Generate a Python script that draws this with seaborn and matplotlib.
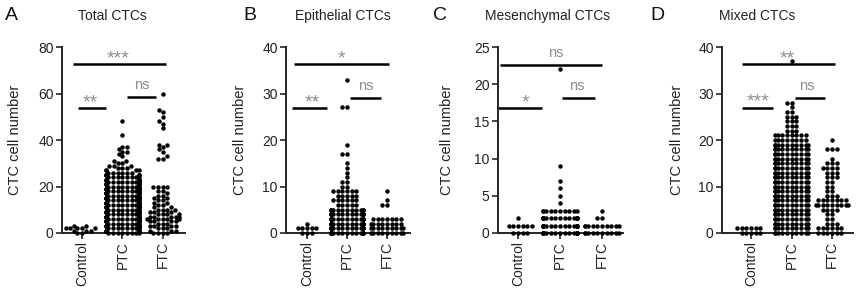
import warnings
warnings.filterwarnings("ignore")
import numpy as np
import pandas as pd
import matplotlib
matplotlib.use("Agg")
import matplotlib.pyplot as plt
import seaborn as sns

sns.set_style("ticks")
plt.rcParams['font.family'] = ['Liberation Sans', 'DejaVu Sans']

groups = ["Control", "PTC", "FTC"]
panel_letters = ["A", "B", "C", "D"]
titles = ["Total CTCs", "Epithelial CTCs", "Mesenchymal CTCs", "Mixed CTCs"]

# ---- Total CTCs (value / count pairs) ----
total_ctrl_vals = [0, 1, 2, 3]
total_ctrl_cnts = [2, 3, 5, 2]
total_ptc_vals = list(range(0, 32)) + [33, 34, 35, 36, 37, 42, 48]
total_ptc_cnts = [8, 9, 9, 9, 9, 9, 9, 9, 9, 9, 9, 9, 9, 9, 9, 9,
                  9, 9, 9, 9, 9, 9, 9, 8, 8, 7, 6, 4, 3, 3, 2, 2,
                  1, 1, 2, 1, 2, 1, 1]
total_ftc_vals = [0, 1, 2, 3, 4, 5, 6, 7, 8, 9, 10, 11, 12, 13, 14, 15, 16, 17, 18, 20,
                  32, 33, 35, 36, 37, 38, 45, 47, 48, 50, 52, 53, 60]
total_ftc_cnts = [4, 3, 3, 4, 3, 4, 5, 5, 4, 3, 4, 2, 2, 2, 2, 2, 2, 1, 2, 4,
                  2, 1, 1, 1, 1, 2, 1, 1, 1, 1, 1, 1, 1]

# ---- Epithelial CTCs ----
epi_ctrl_vals = [0, 1, 2]
epi_ctrl_cnts = [3, 5, 1]
epi_ptc_vals = [0, 1, 2, 3, 4, 5, 6, 7, 8, 9, 10, 11, 12, 13, 14, 15, 17, 19, 27, 33]
epi_ptc_cnts = [18, 20, 18, 16, 15, 12, 5, 6, 5, 6, 2, 2, 1, 1, 1, 1, 2, 1, 2, 1]
epi_ftc_vals = [0, 1, 2, 3, 6, 7, 9]
epi_ftc_cnts = [9, 9, 8, 7, 2, 1, 1]

# ---- Mesenchymal CTCs ----
mes_ctrl_vals = [0, 1, 2]
mes_ctrl_cnts = [4, 6, 1]
mes_ptc_vals = [0, 1, 2, 3, 4, 5, 6, 7, 9, 22]
mes_ptc_cnts = [16, 18, 16, 10, 1, 1, 1, 1, 1, 1]
mes_ftc_vals = [0, 1, 2, 3]
mes_ftc_cnts = [10, 10, 2, 1]

# ---- Mixed CTCs ----
mix_ctrl_vals = [0, 1]
mix_ctrl_cnts = [5, 6]
mix_ptc_vals = list(range(0, 29)) + [37]
mix_ptc_cnts = [10, 10, 10, 10, 10, 10, 10, 10, 10, 10, 10, 10, 10, 10, 10, 10, 10, 10, 10, 10,
                8, 8, 3, 3, 3, 3, 2, 1, 2, 1]
mix_ftc_vals = [0, 1, 2, 3, 4, 5, 6, 7, 8, 9, 10, 11, 12, 13, 14, 15, 16, 18, 20]
mix_ftc_cnts = [6, 6, 3, 2, 2, 4, 9, 7, 3, 2, 2, 2, 3, 3, 4, 3, 1, 3, 1]

panel_data = [
    [(total_ctrl_vals, total_ctrl_cnts), (total_ptc_vals, total_ptc_cnts), (total_ftc_vals, total_ftc_cnts)],
    [(epi_ctrl_vals, epi_ctrl_cnts), (epi_ptc_vals, epi_ptc_cnts), (epi_ftc_vals, epi_ftc_cnts)],
    [(mes_ctrl_vals, mes_ctrl_cnts), (mes_ptc_vals, mes_ptc_cnts), (mes_ftc_vals, mes_ftc_cnts)],
    [(mix_ctrl_vals, mix_ctrl_cnts), (mix_ptc_vals, mix_ptc_cnts), (mix_ftc_vals, mix_ftc_cnts)],
]

y_max = [80, 40, 25, 40]
y_step = [20, 10, 5, 10]

# significance brackets: (x0, x1, y_line, label, x_text)
sig = [
    [(-0.22, 2.07, 72.7, "***", 0.88), (-0.1, 0.59, 53.7, "**", 0.2), (1.12, 1.83, 58.3, "ns", 1.49)],
    [(-0.33, 2.05, 36.3, "*", 0.85), (-0.38, 0.5, 26.8, "**", 0.13), (1.08, 1.85, 29.0, "ns", 1.46)],
    [(-0.44, 2.0, 22.6, "ns", 0.9), (-0.49, 0.56, 16.8, "*", 0.17), (1.05, 1.83, 18.2, "ns", 1.41)],
    [(-0.22, 2.07, 36.3, "**", 0.89), (-0.22, 0.54, 26.9, "***", 0.17), (1.08, 1.83, 29.0, "ns", 1.38)],
]

# axes layout in pixels (left, right) and x-limits
ax_px = [(62, 185), (286, 410), (498, 623), (722, 853)]
xlims = [(-0.5, 2.55), (-0.53, 2.58), (-0.48, 2.5), (-0.72, 2.52)]
half_w = [0.25, 0.27, 0.27, 0.36]
title_x = [112, 343, 548, 757]
letter_x = [5, 243, 433, 650]
ylabel_x = [15, 240, 447, 677]

W, H = 860, 300
fig = plt.figure(figsize=(W / 100, H / 100), dpi=100)
bottom_px, top_px = 233, 47

grey = "#8e8e8e"
for i in range(4):
    l, r = ax_px[i]
    ax = fig.add_axes([l / W, (H - bottom_px) / H, (r - l) / W, (bottom_px - top_px) / H])
    rows = []
    for g, (vals, cnts) in zip(groups, panel_data[i]):
        for v, c in zip(vals, cnts):
            rows.extend([(g, v)] * c)
    df = pd.DataFrame(rows, columns=["group", "value"])
    ax.set_xlim(*xlims[i])
    ax.set_ylim(0, y_max[i])
    sns.swarmplot(data=df, x="group", y="value", order=groups, color="black",
                  size=2.6, linewidth=0, ax=ax)
    ax.set_xlim(*xlims[i])
    ax.set_ylim(0, y_max[i])
    fig.canvas.draw()
    # keep each swarm within the narrow column width used in the figure
    for coll in ax.collections:
        coll.set_clip_on(False)
        coll.set_sizes([3.2 ** 2])
        off = coll.get_offsets()
        if len(off):
            c = np.round(np.median(off[:, 0]))
            dx = np.clip(off[:, 0] - c, -half_w[i], half_w[i])
            coll.set_offsets(np.column_stack([c + dx, off[:, 1]]))
    ax.set_yticks(np.arange(0, y_max[i] + 1, y_step[i]))
    ax.set_xticks(range(3))
    ax.set_xticklabels(groups, rotation=90, fontsize=10)
    ax.tick_params(axis="y", labelsize=10, length=4, width=1.2, pad=2,
                   labelcolor="#222222")
    ax.tick_params(axis="x", length=4, width=1.2, pad=2, labelcolor="#222222")
    ax.set_xlabel("")
    ax.set_ylabel("")
    for s in ["top", "right"]:
        ax.spines[s].set_visible(False)
    for s in ["left", "bottom"]:
        ax.spines[s].set_linewidth(1.4)
    ax.set_facecolor("white")
    for (x0, x1, yl, lab, xt) in sig[i]:
        ax.plot([x0, x1], [yl, yl], color="black", lw=1.8, clip_on=False,
                solid_capstyle="butt")
        if "*" in lab:
            ax.annotate(lab, (xt, yl), xytext=(0, 1), textcoords="offset pixels",
                        ha="center", va="baseline", color=grey, fontsize=14,
                        annotation_clip=False)
        else:
            ax.annotate(lab, (xt, yl), xytext=(0, 8), textcoords="offset pixels",
                        ha="center", va="baseline", color=grey, fontsize=10.5,
                        annotation_clip=False)
    fig.text(title_x[i] / W, 1 - 16 / H, titles[i], ha="center", va="center",
             fontsize=10, color="#222222")
    fig.text(letter_x[i] / W, 1 - 16 / H, panel_letters[i], ha="left", va="center",
             fontsize=14, color="#111111")
    fig.text(ylabel_x[i] / W, 1 - 140 / H, "CTC cell number", rotation=90,
             ha="center", va="center", fontsize=10.5, color="#222222")

fig.savefig("out.png", dpi=100, facecolor="white")
